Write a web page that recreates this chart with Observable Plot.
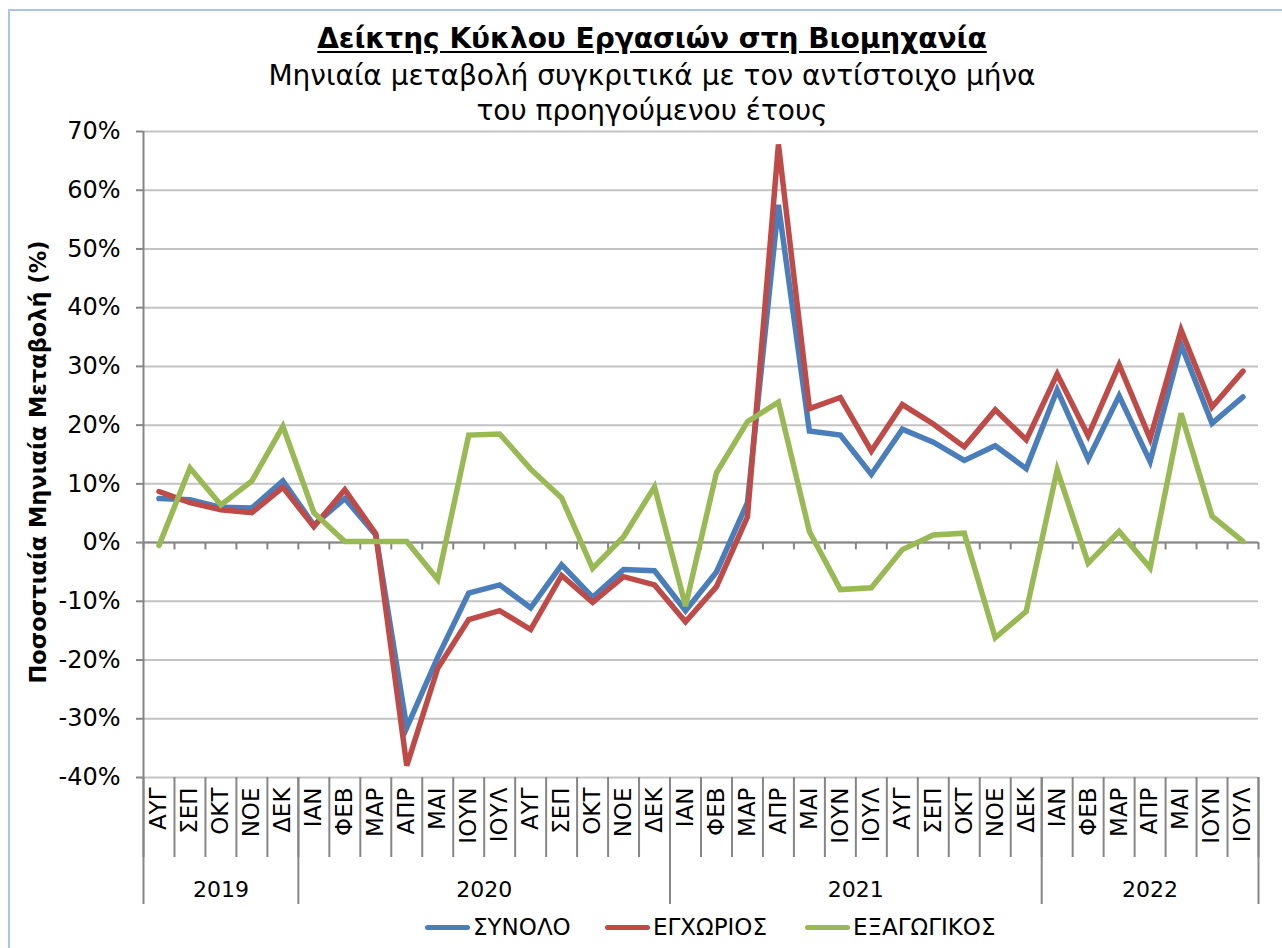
<!DOCTYPE html>
<html>
<head>
<meta charset="utf-8">
<script src="https://cdn.jsdelivr.net/npm/d3@7"></script>
<script src="https://cdn.jsdelivr.net/npm/@observablehq/plot@0.6"></script>
<style>
  html, body { margin: 0; padding: 0; background: #fff; }
  #wrap { position: relative; width: 1282px; height: 948px; overflow: hidden; font-family: "DejaVu Sans", Verdana, sans-serif; color: #000; }
  #border { position: absolute; left: 8px; top: 9px; width: 1290px; height: 960px; border-top: 2px solid #a9c4e6; border-left: 2px solid #a9c4e6; box-sizing: border-box; }
  .title { position: absolute; left: 0; width: 1304px; text-align: center; white-space: nowrap; line-height: 32px; }
  #t1 { top: 23px; font-size: 28px; font-weight: bold; text-decoration: underline; text-underline-offset: 3px; }
  #t2 { top: 60px; font-size: 28px; }
  #t3 { top: 95px; font-size: 28px; }
  #ylab { position: absolute; left: 38px; top: 462px; transform: translate(-50%, -50%) rotate(-90deg); font-size: 22.5px; font-weight: bold; white-space: nowrap; }
  #chart { position: absolute; left: 0; top: 120px; }
  #legend { position: absolute; top: 914px; left: 0; width: 1282px; height: 26px; }
  .item { position: absolute; top: 0; display: flex; align-items: center; height: 26px; font-size: 23px; white-space: nowrap; }
  .sw { width: 45px; height: 5px; border-radius: 3px; margin-right: 3px; }
</style>
</head>
<body>
<div id="wrap">
  <div id="border"></div>
  <div class="title" id="t1">Δείκτης Κύκλου Εργασιών στη Βιομηχανία</div>
  <div class="title" id="t2">Μηνιαία μεταβολή συγκριτικά με τον αντίστοιχο μήνα</div>
  <div class="title" id="t3">του προηγούμενου έτους</div>
  <div id="ylab">Ποσοστιαία Μηνιαία Μεταβολή (%)</div>
  <div id="chart"></div>
  <div id="legend"></div>
</div>
<script>
// ---- Data ----
const months = ["ΑΥΓ","ΣΕΠ","ΟΚΤ","ΝΟΕ","ΔΕΚ",
  "ΙΑΝ","ΦΕΒ","ΜΑΡ","ΑΠΡ","ΜΑΙ","ΙΟΥΝ","ΙΟΥΛ","ΑΥΓ","ΣΕΠ","ΟΚΤ","ΝΟΕ","ΔΕΚ",
  "ΙΑΝ","ΦΕΒ","ΜΑΡ","ΑΠΡ","ΜΑΙ","ΙΟΥΝ","ΙΟΥΛ","ΑΥΓ","ΣΕΠ","ΟΚΤ","ΝΟΕ","ΔΕΚ",
  "ΙΑΝ","ΦΕΒ","ΜΑΡ","ΑΠΡ","ΜΑΙ","ΙΟΥΝ","ΙΟΥΛ"];
const years = ["2019","2020","2021","2022"];
const yearCounts = [5, 12, 12, 7];

const synolo = [7.5, 7.3, 6.0, 5.9, 10.5,
  3.0, 7.5, 1.3, -31.5, -19.5, -8.6, -7.2, -11.1, -3.8, -9.3, -4.6, -4.8,
  -11.6, -5.0, 6.8, 57.5, 19.0, 18.3, 11.6, 19.3, 17.1, 14.0, 16.5, 12.6,
  26.0, 14.2, 25.0, 13.8, 33.7, 20.3, 24.8];
const egxorios = [8.7, 6.8, 5.6, 5.1, 9.4,
  2.7, 9.0, 1.5, -38.0, -21.4, -13.1, -11.6, -14.8, -5.6, -10.2, -5.8, -7.2,
  -13.5, -7.5, 4.4, 67.8, 22.8, 24.7, 15.6, 23.5, 20.2, 16.3, 22.6, 17.5,
  28.7, 18.2, 30.3, 17.7, 36.2, 23.1, 29.2];
const exagogikos = [-0.5, 12.7, 6.4, 10.5, 19.8,
  5.1, 0.2, 0.2, 0.2, -6.3, 18.3, 18.5, 12.5, 7.6, -4.4, 1.0, 9.5,
  -10.8, 11.9, 20.6, 23.9, 1.9, -8.0, -7.7, -1.2, 1.3, 1.6, -16.2, -11.7,
  12.4, -3.5, 1.9, -4.3, 22.0, 4.5, 0.2];

const seriesNames = ["ΣΥΝΟΛΟ", "ΕΓΧΩΡΙΟΣ", "ΕΞΑΓΩΓΙΚΟΣ"];
const seriesValues = [synolo, egxorios, exagogikos];
const seriesColors = ["#4a7ebb", "#be4b48", "#98b954"];
const yTicks = [-40, -30, -20, -10, 0, 10, 20, 30, 40, 50, 60, 70];

// ---- Derived tables ----
const idx = months.map((_, i) => i);
const rows = seriesNames.map((name, s) => seriesValues[s].map((v, i) => ({series: name, i, v})));
const boundaries = d3.range(-0.5, months.length, 1);
let acc = 0;
const yearStarts = [], yearCenters = [];
yearCounts.forEach(c => { yearStarts.push(acc - 0.5); yearCenters.push(acc + (c - 1) / 2); acc += c; });
yearStarts.push(acc - 0.5);

const fontFamily = '"DejaVu Sans", Verdana, sans-serif';
const axisGray = "#868686";

const chart = Plot.plot({
  width: 1282,
  height: 790,
  marginTop: 11,
  marginBottom: 133,
  marginLeft: 143,
  marginRight: 24,
  style: {fontFamily, color: "#000", background: "transparent", overflow: "visible"},
  x: {type: "linear", domain: [-0.5, months.length - 0.5]},
  y: {domain: [-40, 70]},
  marks: [
    Plot.gridY(yTicks, {stroke: "#c3c3c3", strokeOpacity: 1, strokeWidth: 2}),
    Plot.axisY(yTicks, {tickSize: 7, tickPadding: 16, stroke: axisGray, strokeWidth: 2, fontSize: 24, tickFormat: d => d + "%", label: null}),
    Plot.ruleX([-0.5], {stroke: axisGray, strokeWidth: 2}),
    Plot.ruleY([0], {stroke: axisGray, strokeWidth: 2}),
    Plot.ruleX(boundaries, {y1: 0, y2: -1.25, stroke: axisGray, strokeWidth: 2}),
    // category separators below the plot
    Plot.axisX(boundaries, {tickSize: 80, stroke: axisGray, strokeWidth: 2, tickFormat: () => "", label: null}),
    // month labels
    Plot.axisX(idx, {tickSize: 0, tickPadding: 10, tickRotate: -90, fontSize: 23, tickFormat: i => months[i], label: null}),
    // year separators
    Plot.axisX(yearStarts, {tickSize: 127, stroke: axisGray, strokeWidth: 2, tickFormat: () => "", label: null}),
    // year labels
    Plot.axisX(yearCenters, {tickSize: 0, tickPadding: 104, fontSize: 22, tickFormat: (d, k) => years[k], label: null}),
    ...rows.map((r, s) => Plot.line(r, {x: "i", y: "v", stroke: seriesColors[s], strokeWidth: 5.5, strokeLinejoin: "miter", strokeMiterlimit: 4}))
  ]
});
document.getElementById("chart").appendChild(chart);

// ---- Legend ----
const legend = document.getElementById("legend");
const legendX = [425, 605, 805];
seriesNames.forEach((name, s) => {
  const item = document.createElement("div");
  item.className = "item";
  item.style.left = legendX[s] + "px";
  const sw = document.createElement("div");
  sw.className = "sw";
  sw.style.background = seriesColors[s];
  item.appendChild(sw);
  item.appendChild(document.createTextNode(name));
  legend.appendChild(item);
});
</script>
</body>
</html>
